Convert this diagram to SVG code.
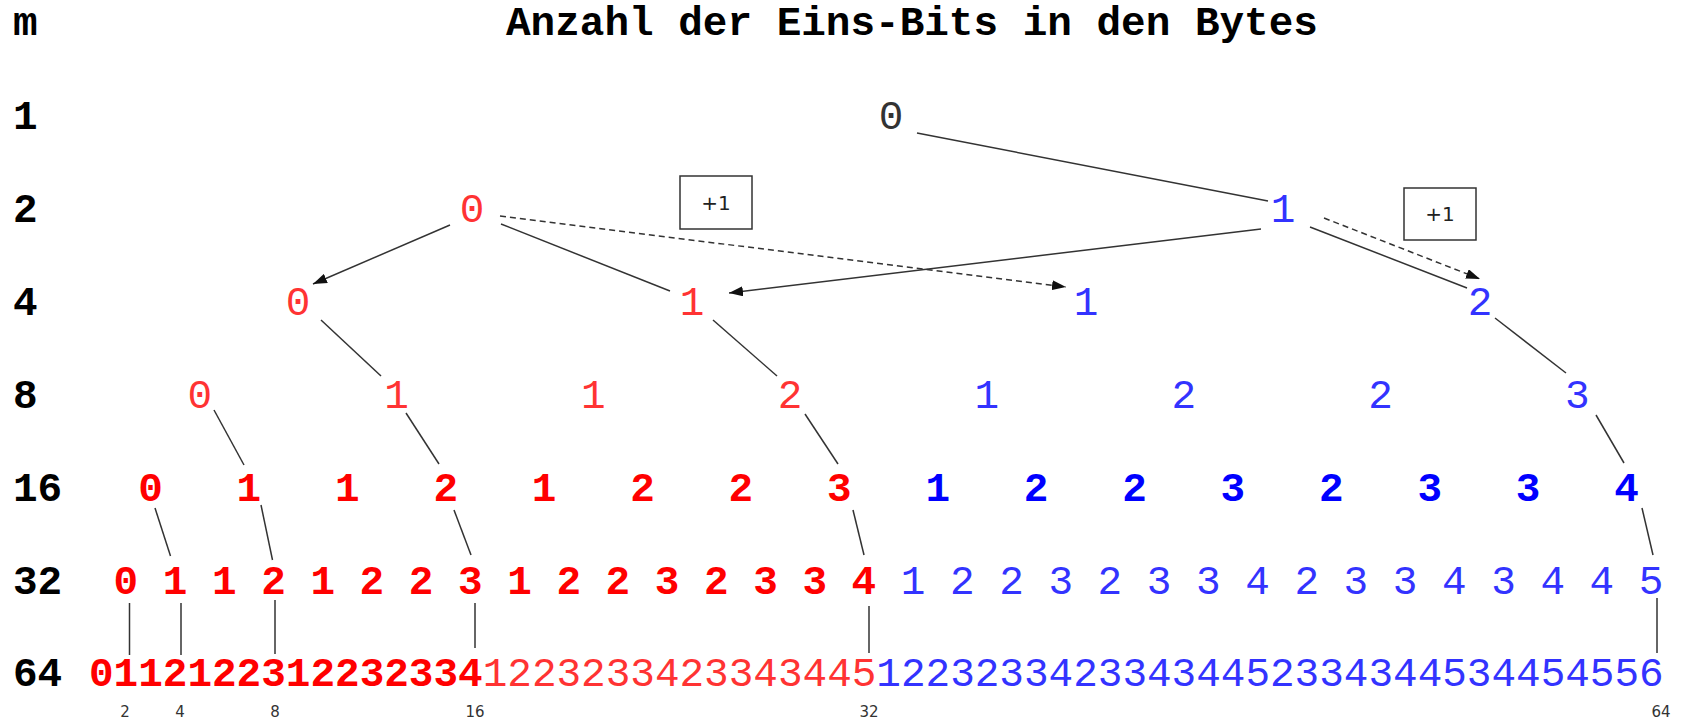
<svg xmlns="http://www.w3.org/2000/svg" width="1681" height="723" viewBox="0 0 1681 723">
<defs>
<style>
.lbl{font-family:"Liberation Mono",monospace;font-size:41px;font-weight:bold;fill:#000}
.d{font-family:"Liberation Mono",monospace;font-size:41px;text-anchor:middle}
.b{font-weight:bold}
.r{fill:#ff0000}.rl{fill:#ff3333}.bl{fill:#3333ff}.bb{fill:#0000ff}.g{fill:#333}
.e{stroke:#333;stroke-width:1.5;fill:none}
.dash{stroke-dasharray:6 4}
.mk{font-family:"DejaVu Sans",sans-serif;font-size:15px;fill:#333;text-anchor:middle}
.box{fill:#fff;stroke:#333;stroke-width:1.5}
.plus{font-family:"DejaVu Sans",sans-serif;font-size:20px;fill:#222;text-anchor:middle}
</style>
<marker id="ah" markerUnits="userSpaceOnUse" markerWidth="14" markerHeight="10" refX="14" refY="5" orient="auto"><path d="M0,0 L14,5 L0,10 z" fill="#111"/></marker>
</defs>
<rect width="1681" height="723" fill="#fff"/>
<g id="title"><text class="lbl" x="506" y="35">Anzahl der Eins-Bits in den Bytes</text></g>
<g id="rowlabels">
<text class="lbl" x="13" y="35">m</text>
<text class="lbl" x="13" y="129">1</text>
<text class="lbl" x="13" y="222">2</text>
<text class="lbl" x="13" y="315">4</text>
<text class="lbl" x="13" y="408">8</text>
<text class="lbl" x="13" y="501">16</text>
<text class="lbl" x="13" y="594">32</text>
<text class="lbl" x="13" y="686">64</text>
</g>
<g id="connectors">
<line class="e" x1="917" y1="133" x2="1268" y2="201"/>
<line class="e" x1="450" y1="225" x2="313" y2="284" marker-end="url(#ah)"/>
<line class="e" x1="501" y1="224" x2="670" y2="291"/>
<line class="e dash" x1="500" y1="216" x2="1066" y2="287" marker-end="url(#ah)"/>
<line class="e" x1="1261" y1="229" x2="729" y2="293" marker-end="url(#ah)"/>
<line class="e" x1="1310" y1="227" x2="1467" y2="288"/>
<line class="e dash" x1="1324" y1="218" x2="1480" y2="279" marker-end="url(#ah)"/>
<line class="e" x1="321" y1="320" x2="381" y2="376"/>
<line class="e" x1="713" y1="320" x2="777" y2="376"/>
<line class="e" x1="1495" y1="318" x2="1566" y2="373"/>
<line class="e" x1="214" y1="410" x2="244" y2="465"/>
<line class="e" x1="406" y1="413" x2="439" y2="464"/>
<line class="e" x1="805" y1="414" x2="838" y2="464"/>
<line class="e" x1="1596" y1="415" x2="1624" y2="463"/>
<line class="e" x1="155" y1="508" x2="170.5" y2="556"/>
<line class="e" x1="261" y1="505" x2="272.5" y2="560"/>
<line class="e" x1="454" y1="510" x2="471" y2="555"/>
<line class="e" x1="853" y1="510" x2="864" y2="555"/>
<line class="e" x1="1642" y1="508" x2="1653" y2="555"/>
<line class="e" x1="129.5" y1="603" x2="129.5" y2="655"/>
<line class="e" x1="181" y1="603" x2="181" y2="655"/>
<line class="e" x1="275" y1="600" x2="275" y2="654"/>
<line class="e" x1="475" y1="603" x2="475" y2="648"/>
<line class="e" x1="869" y1="606" x2="869" y2="653"/>
<line class="e" x1="1657" y1="598" x2="1657" y2="653"/>
</g>
<g id="plus1-left"><rect class="box" x="680" y="176" width="72" height="53"/><text class="plus" x="716" y="210">+1</text></g>
<g id="plus1-right"><rect class="box" x="1404" y="188" width="72" height="52"/><text class="plus" x="1440" y="221">+1</text></g>
<g id="m1-0"><text class="d g" x="891" y="129">0</text></g>
<g id="m2-0"><text class="d rl" x="472" y="222">0</text></g>
<g id="m2-1"><text class="d bl" x="1283" y="222">1</text></g>
<g id="m4-0"><text class="d rl" x="298" y="315">0</text></g>
<g id="m4-1"><text class="d rl" x="692" y="315">1</text></g>
<g id="m4-2"><text class="d bl" x="1086" y="315">1</text></g>
<g id="m4-3"><text class="d bl" x="1480" y="315">2</text></g>
<g id="m8-0"><text class="d rl" x="199.7" y="408">0</text></g>
<g id="m8-1"><text class="d rl" x="396.5" y="408">1</text></g>
<g id="m8-2"><text class="d rl" x="593.3" y="408">1</text></g>
<g id="m8-3"><text class="d rl" x="790.1" y="408">2</text></g>
<g id="m8-4"><text class="d bl" x="986.9" y="408">1</text></g>
<g id="m8-5"><text class="d bl" x="1183.7" y="408">2</text></g>
<g id="m8-6"><text class="d bl" x="1380.5" y="408">2</text></g>
<g id="m8-7"><text class="d bl" x="1577.3" y="408">3</text></g>
<g id="m16-0"><text class="d b r" x="150.5" y="501">0</text></g>
<g id="m16-1"><text class="d b r" x="248.9" y="501">1</text></g>
<g id="m16-2"><text class="d b r" x="347.3" y="501">1</text></g>
<g id="m16-3"><text class="d b r" x="445.7" y="501">2</text></g>
<g id="m16-4"><text class="d b r" x="544.1" y="501">1</text></g>
<g id="m16-5"><text class="d b r" x="642.5" y="501">2</text></g>
<g id="m16-6"><text class="d b r" x="740.9" y="501">2</text></g>
<g id="m16-7"><text class="d b r" x="839.3" y="501">3</text></g>
<g id="m16-8"><text class="d b bb" x="937.7" y="501">1</text></g>
<g id="m16-9"><text class="d b bb" x="1036.1" y="501">2</text></g>
<g id="m16-10"><text class="d b bb" x="1134.5" y="501">2</text></g>
<g id="m16-11"><text class="d b bb" x="1232.9" y="501">3</text></g>
<g id="m16-12"><text class="d b bb" x="1331.3" y="501">2</text></g>
<g id="m16-13"><text class="d b bb" x="1429.7" y="501">3</text></g>
<g id="m16-14"><text class="d b bb" x="1528.1" y="501">3</text></g>
<g id="m16-15"><text class="d b bb" x="1626.5" y="501">4</text></g>
<g id="m32-0"><text class="d b r" x="125.9" y="594">0</text></g>
<g id="m32-1"><text class="d b r" x="175.1" y="594">1</text></g>
<g id="m32-2"><text class="d b r" x="224.3" y="594">1</text></g>
<g id="m32-3"><text class="d b r" x="273.5" y="594">2</text></g>
<g id="m32-4"><text class="d b r" x="322.7" y="594">1</text></g>
<g id="m32-5"><text class="d b r" x="371.9" y="594">2</text></g>
<g id="m32-6"><text class="d b r" x="421.1" y="594">2</text></g>
<g id="m32-7"><text class="d b r" x="470.3" y="594">3</text></g>
<g id="m32-8"><text class="d b r" x="519.5" y="594">1</text></g>
<g id="m32-9"><text class="d b r" x="568.7" y="594">2</text></g>
<g id="m32-10"><text class="d b r" x="617.9" y="594">2</text></g>
<g id="m32-11"><text class="d b r" x="667.1" y="594">3</text></g>
<g id="m32-12"><text class="d b r" x="716.3" y="594">2</text></g>
<g id="m32-13"><text class="d b r" x="765.5" y="594">3</text></g>
<g id="m32-14"><text class="d b r" x="814.7" y="594">3</text></g>
<g id="m32-15"><text class="d b r" x="863.9" y="594">4</text></g>
<g id="m32-16"><text class="d bl" x="913.1" y="594">1</text></g>
<g id="m32-17"><text class="d bl" x="962.3" y="594">2</text></g>
<g id="m32-18"><text class="d bl" x="1011.5" y="594">2</text></g>
<g id="m32-19"><text class="d bl" x="1060.7" y="594">3</text></g>
<g id="m32-20"><text class="d bl" x="1109.9" y="594">2</text></g>
<g id="m32-21"><text class="d bl" x="1159.1" y="594">3</text></g>
<g id="m32-22"><text class="d bl" x="1208.3" y="594">3</text></g>
<g id="m32-23"><text class="d bl" x="1257.5" y="594">4</text></g>
<g id="m32-24"><text class="d bl" x="1306.7" y="594">2</text></g>
<g id="m32-25"><text class="d bl" x="1355.9" y="594">3</text></g>
<g id="m32-26"><text class="d bl" x="1405.1" y="594">3</text></g>
<g id="m32-27"><text class="d bl" x="1454.3" y="594">4</text></g>
<g id="m32-28"><text class="d bl" x="1503.5" y="594">3</text></g>
<g id="m32-29"><text class="d bl" x="1552.7" y="594">4</text></g>
<g id="m32-30"><text class="d bl" x="1601.9" y="594">4</text></g>
<g id="m32-31"><text class="d bl" x="1651.1" y="594">5</text></g>
<g id="m64"><text x="89" y="686" style="font-family:'Liberation Mono',monospace;font-size:41px"><tspan class="b r">0112122312232334</tspan><tspan class="rl">1223233423343445</tspan><tspan class="bl">12232334233434452334344534454556</tspan></text></g>
<g id="markers">
<text class="mk" x="125" y="717">2</text>
<text class="mk" x="180" y="717">4</text>
<text class="mk" x="275" y="717">8</text>
<text class="mk" x="475" y="717">16</text>
<text class="mk" x="869" y="717">32</text>
<text class="mk" x="1661" y="717">64</text>
</g>
</svg>
